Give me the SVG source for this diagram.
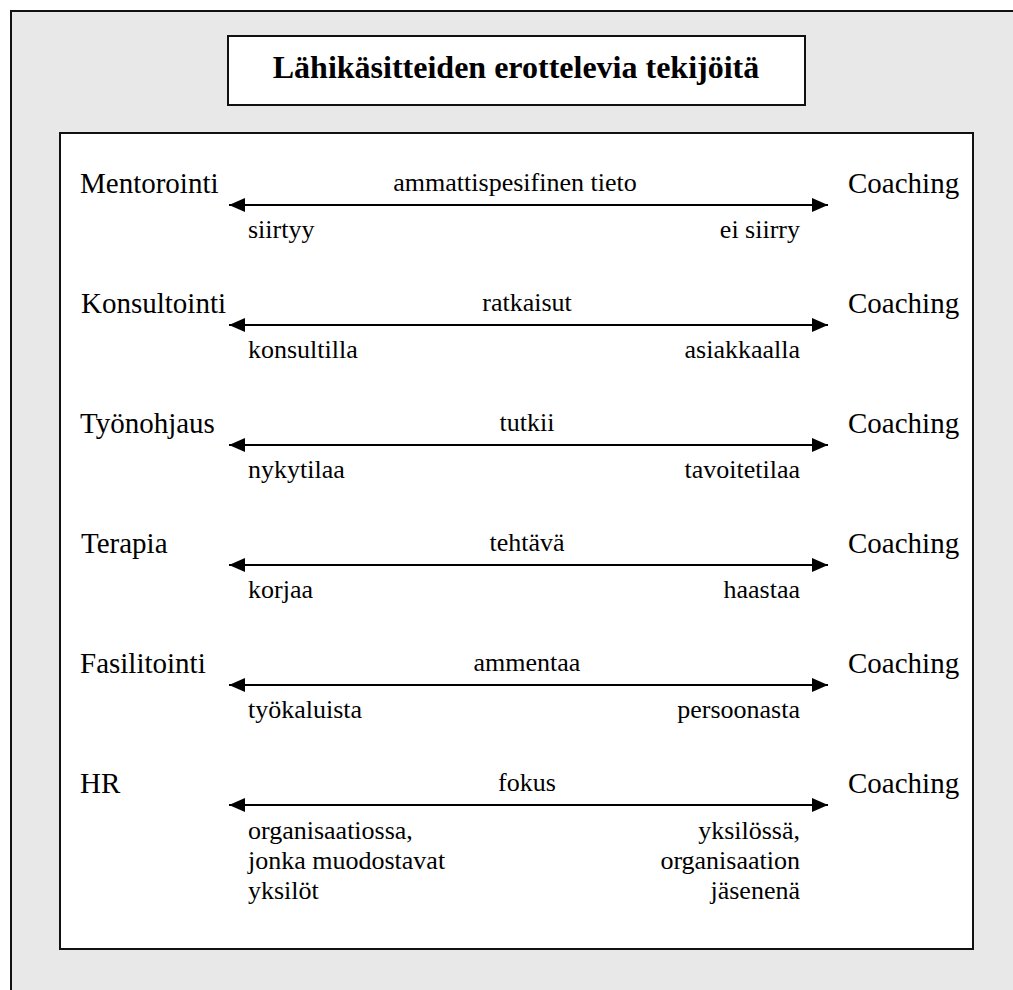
<svg xmlns="http://www.w3.org/2000/svg" width="1013" height="990" viewBox="0 0 1013 990">
<defs>
<style>
.frame{fill:#e8e8e8;stroke:#111;stroke-width:2}
.box{fill:#fff;stroke:#111;stroke-width:2}
.title{font-family:"Liberation Serif","Times New Roman",serif;font-weight:bold;font-size:32px;fill:#000;text-anchor:middle}
.big{font-family:"Liberation Serif","Times New Roman",serif;font-size:29px;fill:#000}
.small{font-family:"Liberation Serif","Times New Roman",serif;font-size:26px;fill:#000}
.mid{text-anchor:middle}
.end{text-anchor:end}
.arr{stroke:#000;stroke-width:2.2;fill:none;marker-start:url(#ah);marker-end:url(#ah)}
</style>
<marker id="ah" viewBox="0 0 16 14" refX="16" refY="7" markerWidth="16" markerHeight="14" markerUnits="userSpaceOnUse" orient="auto-start-reverse">
<path d="M0,0 L16,7 L0,14 Z" fill="#000"/>
</marker>
</defs>
<rect x="0" y="0" width="1013" height="990" fill="#fff"/>
<rect class="frame" x="11" y="11" width="1020" height="1000"/>
<g id="title">
<rect class="box" x="228" y="36" width="577" height="69"/>
<text class="title" x="516" y="78">Lähikäsitteiden erottelevia tekijöitä</text>
</g>
<rect class="box" x="60" y="133" width="913" height="816"/>
<g id="connectors">
<line class="arr" x1="229" y1="205" x2="828" y2="205"/>
<line class="arr" x1="229" y1="325" x2="828" y2="325"/>
<line class="arr" x1="229" y1="445" x2="828" y2="445"/>
<line class="arr" x1="229" y1="565" x2="828" y2="565"/>
<line class="arr" x1="229" y1="685" x2="828" y2="685"/>
<line class="arr" x1="229" y1="805" x2="828" y2="805"/>
</g>
<g id="row-mentorointi">
<text class="big" x="80" y="193">Mentorointi</text>
<text class="big" x="848" y="193">Coaching</text>
<text class="small mid" x="515" y="191">ammattispesifinen tieto</text>
<text class="small" x="248" y="238">siirtyy</text>
<text class="small end" x="800" y="238">ei siirry</text>
</g>
<g id="row-konsultointi">
<text class="big" x="81" y="313">Konsultointi</text>
<text class="big" x="848" y="313">Coaching</text>
<text class="small mid" x="527" y="311">ratkaisut</text>
<text class="small" x="248" y="358">konsultilla</text>
<text class="small end" x="800" y="358">asiakkaalla</text>
</g>
<g id="row-tyonohjaus">
<text class="big" x="80" y="433">Työnohjaus</text>
<text class="big" x="848" y="433">Coaching</text>
<text class="small mid" x="527" y="431">tutkii</text>
<text class="small" x="248" y="478">nykytilaa</text>
<text class="small end" x="800" y="478">tavoitetilaa</text>
</g>
<g id="row-terapia">
<text class="big" x="81" y="553">Terapia</text>
<text class="big" x="848" y="553">Coaching</text>
<text class="small mid" x="527" y="551">tehtävä</text>
<text class="small" x="248" y="598">korjaa</text>
<text class="small end" x="800" y="598">haastaa</text>
</g>
<g id="row-fasilitointi">
<text class="big" x="80" y="673">Fasilitointi</text>
<text class="big" x="848" y="673">Coaching</text>
<text class="small mid" x="527" y="671">ammentaa</text>
<text class="small" x="248" y="718">työkaluista</text>
<text class="small end" x="800" y="718">persoonasta</text>
</g>
<g id="row-hr">
<text class="big" x="80" y="793">HR</text>
<text class="big" x="848" y="793">Coaching</text>
<text class="small mid" x="527" y="791">fokus</text>
<text class="small" x="248" y="839">organisaatiossa,</text>
<text class="small" x="248" y="869">jonka muodostavat</text>
<text class="small" x="248" y="899">yksilöt</text>
<text class="small end" x="800" y="839">yksilössä,</text>
<text class="small end" x="800" y="869">organisaation</text>
<text class="small end" x="800" y="899">jäsenenä</text>
</g>
</svg>
